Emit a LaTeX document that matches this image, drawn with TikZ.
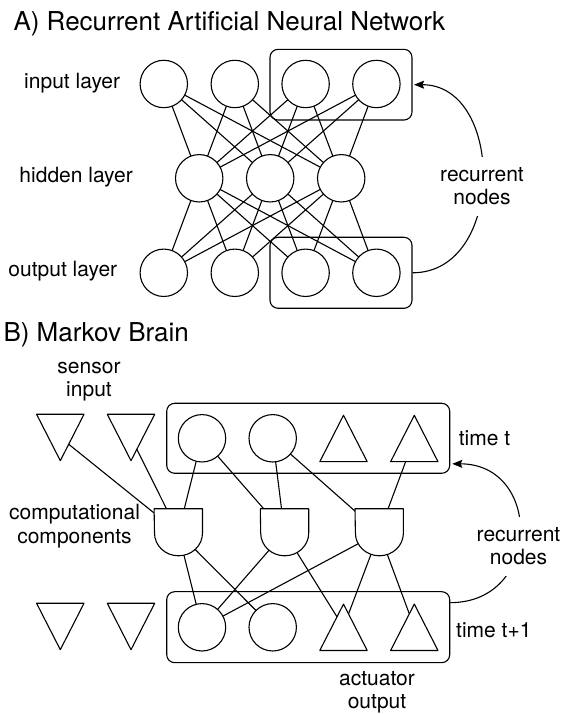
\documentclass[tikz,border=0pt]{standalone}
\usepackage{fontspec}
\setmainfont{TeX Gyre Heros}
\usetikzlibrary{arrows.meta}
\pgfdeclarelayer{background}
\pgfsetlayers{background,main}
\begin{document}
\begin{tikzpicture}[x=1pt,y=1pt,
  every node/.style={inner sep=0pt},
  lbl/.style={font=\fontsize{21}{23.3}\selectfont},
  ttl/.style={font=\fontsize{26}{30}\selectfont},
  neuron/.style={circle, draw, fill=white, minimum size=47.4pt, line width=1.1pt},
  rbox/.style={draw, rounded corners=8pt, line width=1.1pt},
  tribox/.style={minimum width=47pt, minimum height=46pt},
  gatebox/.style={minimum width=48pt, minimum height=47pt},
  shapeline/.style={draw, fill=white, line width=1.1pt, line join=round},
  link/.style={line width=1.1pt},
  looparrow/.style={line width=1.1pt, -{Stealth[length=10pt,width=8pt,inset=1.5pt]}},
  recnote/.style={lbl, align=center, fill=white, inner xsep=2pt, inner ysep=11pt}
]
\useasboundingbox (0,0) rectangle (564,714);

% ---------------- A) ----------------
\node[ttl, anchor=base west] (titleA) at (13.3,714-30.7) {A) Recurrent Artificial Neural Network};
\node[lbl, anchor=base west] (linput) at (24,714-88.3) {input layer};
\node[lbl, anchor=base west] (lhidden) at (19.3,714-182.7) {hidden layer};
\node[lbl, anchor=base west] (loutput) at (8.3,714-276.7) {output layer};

\foreach \n/\x in {1/163.8,2/234.8,3/305.6,4/376.4}{
  \node[neuron] (i\n) at (\x,714-84) {};
  \node[neuron] (o\n) at (\x,714-272.8) {};
}
\foreach \n/\x in {1/199.2,2/270.2,3/341.2}{
  \node[neuron] (h\n) at (\x,714-178.3) {};
}
\node[rbox, minimum width=142pt, minimum height=70.7pt] (aboxT) at (341,714-84.7) {};
\node[rbox, minimum width=142pt, minimum height=71pt] (aboxB) at (341,714-272.8) {};

\begin{pgfonlayer}{background}
\foreach \a in {1,2,3,4}{
  \foreach \b in {1,2,3}{
    \draw[link] (i\a.center) -- (h\b.center);
    \draw[link] (h\b.center) -- (o\a.center);
  }
}
\end{pgfonlayer}

\draw[looparrow] (aboxB.east) .. controls +(93,0) and +(91,0) .. ([xshift=1.5pt]aboxT.east);
\node[recnote, anchor=base] (recA) at (482,714-205) {recurrent\\nodes};

% ---------------- B) ----------------
\node[ttl, anchor=base west] (titleB) at (3.3,714-341.7) {B) Markov Brain};
\node[lbl, align=center, anchor=base] (lsensor) at (89,714-396.7) {sensor\\input};
\node[lbl, align=center, anchor=base] (lcomp) at (74.5,714-543.3) {computational\\components};
\node[lbl, anchor=base west] (ltimet) at (458.7,714-445.7) {time t};
\node[lbl, anchor=base west] (ltimet1) at (456,714-637.7) {time t+1};
\node[lbl, align=center, anchor=base] (lact) at (377,714-709) {actuator\\output};

% boxes
\node[rbox, minimum width=283pt, minimum height=70pt] (bboxT) at (308.2,714-438.3) {};
\node[rbox, minimum width=283pt, minimum height=71pt] (bboxB) at (308.2,714-627.2) {};

% top row
\node[tribox] (s1) at (60.3,714-437.5) {};
\node[tribox] (s2) at (131,714-437.5) {};
\node[neuron] (c1) at (202,714-438.3) {};
\node[neuron] (c2) at (272.7,714-438.3) {};
\node[tribox] (t3) at (343.5,714-438.5) {};
\node[tribox] (t4) at (414.3,714-438.5) {};
% bottom row
\node[tribox] (bs1) at (60.3,714-626.5) {};
\node[tribox] (bs2) at (131,714-626.5) {};
\node[neuron] (bc1) at (202,714-627.3) {};
\node[neuron] (bc2) at (272.7,714-627.3) {};
\node[tribox] (bt3) at (343.5,714-627.3) {};
\node[tribox] (bt4) at (414.3,714-627.3) {};
% gates
\node[gatebox] (g1) at (178.3,714-532.5) {};
\node[gatebox] (g2) at (284.5,714-532.5) {};
\node[gatebox] (g3) at (379.2,714-532.5) {};

\begin{pgfonlayer}{background}
\foreach \a/\b in {s1/g1,s2/g1,c1/g1,c1/g2,c2/g2,c2/g3,t4/g3,
                   g1/bc1,g1/bc2,g2/bc1,g3/bc1,g2/bt3,g3/bt3,g3/bt4}{
  \draw[link] (\a.center) -- (\b.center);
}
\end{pgfonlayer}

% triangle outlines
\foreach \n in {s1,s2,bs1,bs2}{
  \path[shapeline] (\n.north west) -- (\n.north east) -- (\n.south) -- cycle;
}
\foreach \n in {t3,t4,bt3,bt4}{
  \path[shapeline] (\n.south west) -- (\n.south east) -- (\n.north) -- cycle;
}
% gate outlines
\foreach \n in {g1,g2,g3}{
  \path[shapeline] (\n.north west) -- (\n.north east) -- ([yshift=-24.3pt]\n.north east)
     arc[start angle=0, end angle=-180, x radius=24pt, y radius=22.7pt] -- cycle;
}

\draw[looparrow] ([yshift=-11.5pt]bboxB.north east) .. controls +(92,0) and +(90,0) .. ([xshift=2pt,yshift=10pt]bboxT.south east);
\node[recnote, anchor=base] (recB) at (518.5,714-565) {recurrent\\nodes};

\end{tikzpicture}
\end{document}
